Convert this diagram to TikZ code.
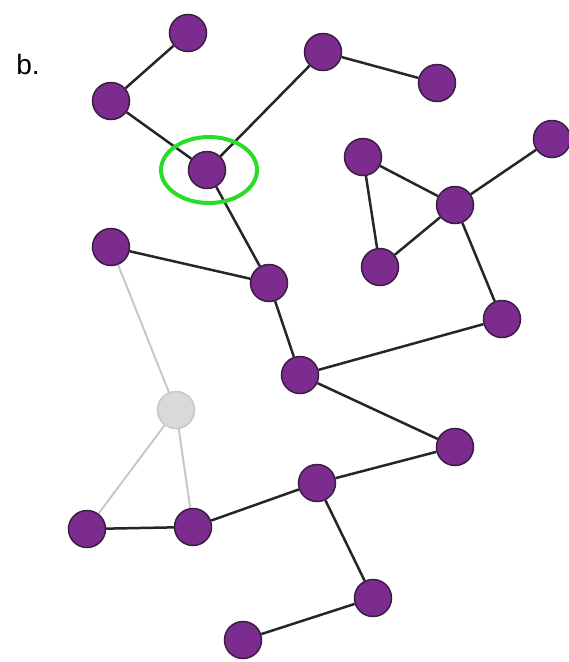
\documentclass[tikz,border=0pt]{standalone}
\usepackage{fontspec}
\setmainfont{Liberation Sans}
\usetikzlibrary{shapes.geometric,backgrounds}

\definecolor{vfill}{RGB}{124,44,142}
\definecolor{vline}{RGB}{58,30,66}
\definecolor{dimfill}{RGB}{217,217,217}
\definecolor{dimline}{RGB}{200,200,200}
\definecolor{ringgreen}{RGB}{40,220,40}

\tikzset{
  vertex/.style={circle, fill=vfill, draw=vline, line width=1.5pt, minimum size=37pt, inner sep=0pt},
  dimvertex/.style={circle, fill=dimfill, draw=dimline, line width=1.5pt, minimum size=37pt, inner sep=0pt},
  link/.style={draw=black!85, line width=2.5pt},
  dimlink/.style={draw=dimline, line width=2pt},
}

\begin{document}
\begin{tikzpicture}[x=1pt, y=-1pt]
\useasboundingbox (0,0) rectangle (569,662);

\node[font=\fontsize{28}{30}\selectfont] (lbl) at (28,64) {b.};

% vertices
\node[vertex] (v1) at (188,33) {};
\node[vertex] (v2) at (111,101) {};
\node[vertex] (v3) at (323,52) {};
\node[vertex] (v4) at (437,83) {};
\node[vertex] (v5) at (207,170) {};
\node[vertex] (v6) at (363,157) {};
\node[vertex] (v7) at (552,139) {};
\node[vertex] (v8) at (455,205) {};
\node[vertex] (v9) at (380,267) {};
\node[vertex] (v10) at (111,247) {};
\node[vertex] (v11) at (269,283) {};
\node[vertex] (v12) at (502,319) {};
\node[vertex] (v13) at (300,375) {};
\node[dimvertex] (v14) at (176,410) {};
\node[vertex] (v15) at (455,447) {};
\node[vertex] (v16) at (317,483) {};
\node[vertex] (v17) at (87,529) {};
\node[vertex] (v18) at (193,527) {};
\node[vertex] (v19) at (373,598) {};
\node[vertex] (v20) at (243,640) {};

% highlighted vertex
\node[draw=ringgreen, line width=4pt, ellipse, minimum width=96pt, minimum height=66pt, inner sep=0pt] (ring) at (209,170) {};

% edges (drawn behind the vertices)
\begin{scope}[on background layer]
\draw[dimlink] (v10) -- (v14);
\draw[dimlink] (v14) -- (v17);
\draw[dimlink] (v14) -- (v18);
\draw[link] (v1) -- (v2);
\draw[link] (v2) -- (v5);
\draw[link] (v5) -- (v3);
\draw[link] (v3) -- (v4);
\draw[link] (v5) -- (v11);
\draw[link] (v10) -- (v11);
\draw[link] (v11) -- (v13);
\draw[link] (v13) -- (v12);
\draw[link] (v12) -- (v8);
\draw[link] (v8) -- (v7);
\draw[link] (v8) -- (v6);
\draw[link] (v6) -- (v9);
\draw[link] (v9) -- (v8);
\draw[link] (v13) -- (v15);
\draw[link] (v15) -- (v16);
\draw[link] (v16) -- (v18);
\draw[link] (v16) -- (v19);
\draw[link] (v19) -- (v20);
\draw[link] (v17) -- (v18);
\end{scope}

\end{tikzpicture}
\end{document}
